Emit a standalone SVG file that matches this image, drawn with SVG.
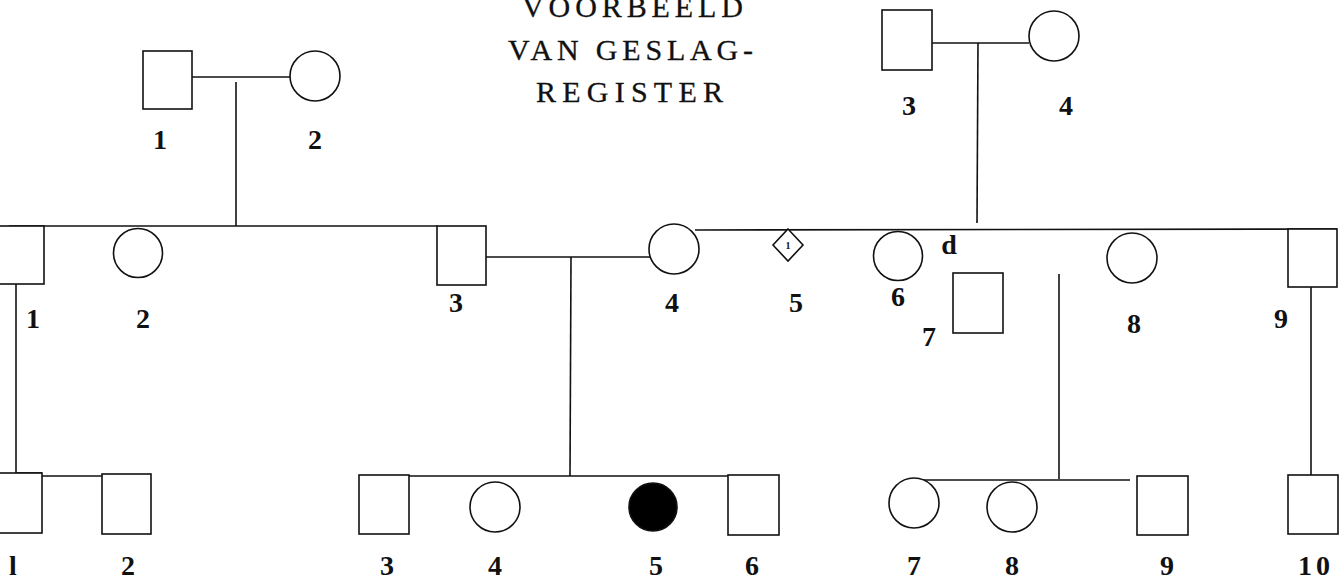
<svg xmlns="http://www.w3.org/2000/svg" width="1342" height="581" viewBox="0 0 1342 581">
  <style>
    .sym { fill: #fff; stroke: #111; stroke-width: 1.6; }
    .aff { fill: #000; stroke: #111; stroke-width: 1.6; }
    .ln { stroke: #111; stroke-width: 1.6; fill: none; }
    .lbl { font-family: "Liberation Serif", "Times New Roman", serif; font-weight: bold; font-size: 28px; fill: #111; text-anchor: middle; }
    .title { font-family: "Liberation Serif", "Times New Roman", serif; font-size: 30px; fill: #111; stroke: #111; stroke-width: 0.3; }
    .tiny { font-family: "Liberation Serif", serif; font-weight: bold; font-size: 10px; fill: #111; text-anchor: middle; }
  </style>

  <rect width="1342" height="581" fill="#fff"/>

  <!-- title -->
  <g id="title">
    <text class="title" x="522" y="17" textLength="221" lengthAdjust="spacing">VOORBEELD</text>
    <text class="title" x="508" y="60" textLength="245" lengthAdjust="spacing">VAN GESLAG-</text>
    <text class="title" x="536" y="102" textLength="187" lengthAdjust="spacing">REGISTER</text>
  </g>

  <!-- connectors -->
  <g id="connectors">
    <!-- generation I, left couple -->
    <line class="ln" x1="192" y1="77" x2="290" y2="77"/>
    <line class="ln" x1="236" y1="82" x2="236" y2="226"/>
    <!-- generation I, right couple -->
    <line class="ln" x1="932" y1="43" x2="1029" y2="43"/>
    <line class="ln" x1="978" y1="43" x2="977" y2="223"/>
    <!-- sibship II left -->
    <line class="ln" x1="9" y1="226" x2="437" y2="226"/>
    <!-- sibship II right -->
    <line class="ln" x1="695" y1="230" x2="1337" y2="229"/>
    <!-- marriage II-3 x II-4 -->
    <line class="ln" x1="486" y1="257" x2="650" y2="257"/>
    <line class="ln" x1="571" y1="257" x2="570" y2="476"/>
    <!-- II-1 descent -->
    <line class="ln" x1="16" y1="284" x2="16" y2="473"/>
    <line class="ln" x1="16" y1="473" x2="42" y2="473"/>
    <line class="ln" x1="42" y1="476" x2="102" y2="476"/>
    <!-- sibship III middle -->
    <line class="ln" x1="409" y1="476" x2="728" y2="476"/>
    <!-- descent to III-7..9 -->
    <line class="ln" x1="1059" y1="274" x2="1059" y2="479"/>
    <line class="ln" x1="917" y1="480" x2="1130" y2="480"/>
    <!-- II-9 to III-10 -->
    <line class="ln" x1="1311" y1="287" x2="1311" y2="476"/>
  </g>

  <!-- generation I -->
  <g id="I-1"><rect class="sym" x="143" y="51" width="49" height="58"/><text class="lbl" x="160" y="149">1</text></g>
  <g id="I-2"><circle class="sym" cx="315" cy="76" r="25"/><text class="lbl" x="315" y="149">2</text></g>
  <g id="I-3"><rect class="sym" x="882" y="10" width="50" height="60"/><text class="lbl" x="909" y="115">3</text></g>
  <g id="I-4"><circle class="sym" cx="1054" cy="36" r="25"/><text class="lbl" x="1066" y="115">4</text></g>

  <!-- generation II -->
  <g id="II-1"><rect class="sym" x="-10" y="226" width="54" height="58"/><text class="lbl" x="33" y="328">1</text></g>
  <g id="II-2"><circle class="sym" cx="138" cy="253" r="24.5"/><text class="lbl" x="143" y="328">2</text></g>
  <g id="II-3"><rect class="sym" x="437" y="226" width="49" height="59"/><text class="lbl" x="456" y="312">3</text></g>
  <g id="II-4"><circle class="sym" cx="674" cy="249" r="25"/><text class="lbl" x="672" y="312">4</text></g>
  <g id="II-5"><polygon class="sym" points="788,229 803,245 788,261 773,245"/><text class="tiny" x="788" y="249">1</text><text class="lbl" x="796" y="312">5</text></g>
  <g id="II-6"><circle class="sym" cx="898" cy="256" r="24.5"/><text class="lbl" x="898" y="306">6</text><text class="lbl" x="949" y="254">d</text></g>
  <g id="II-7"><rect class="sym" x="953" y="273" width="50" height="60"/><text class="lbl" x="929" y="346">7</text></g>
  <g id="II-8"><circle class="sym" cx="1132" cy="258" r="25"/><text class="lbl" x="1134" y="333">8</text></g>
  <g id="II-9"><rect class="sym" x="1288" y="229" width="49" height="58"/><text class="lbl" x="1281" y="328">9</text></g>

  <!-- generation III -->
  <g id="III-1"><rect class="sym" x="-10" y="473" width="52" height="60"/><text class="lbl" x="13" y="575">l</text></g>
  <g id="III-2"><rect class="sym" x="102" y="474" width="49" height="60"/><text class="lbl" x="128" y="575">2</text></g>
  <g id="III-3"><rect class="sym" x="359" y="475" width="50" height="59"/><text class="lbl" x="387" y="575">3</text></g>
  <g id="III-4"><circle class="sym" cx="495" cy="507" r="25"/><text class="lbl" x="495" y="575">4</text></g>
  <g id="III-5"><circle class="aff" cx="653" cy="507" r="24"/><text class="lbl" x="656" y="575">5</text></g>
  <g id="III-6"><rect class="sym" x="728" y="475" width="51" height="60"/><text class="lbl" x="752" y="575">6</text></g>
  <g id="III-7"><circle class="sym" cx="914" cy="503" r="25"/><text class="lbl" x="914" y="575">7</text></g>
  <g id="III-8"><circle class="sym" cx="1012" cy="507" r="25"/><text class="lbl" x="1012" y="575">8</text></g>
  <g id="III-9"><rect class="sym" x="1137" y="476" width="51" height="59"/><text class="lbl" x="1167" y="575">9</text></g>
  <g id="III-10"><rect class="sym" x="1288" y="475" width="50" height="59"/><text class="lbl" x="1316" y="575" letter-spacing="4">10</text></g>
</svg>
